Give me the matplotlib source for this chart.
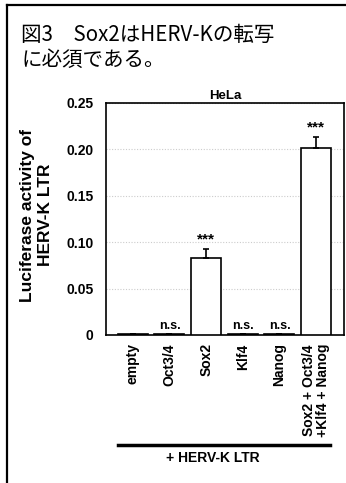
import matplotlib.pyplot as plt
from matplotlib.lines import Line2D

# データ
conditions = ["empty", "Oct3/4", "Sox2", "Klf4", "Nanog", "Sox2 + Oct3/4\n+Klf4 + Nanog"]
activity = [0.0012, 0.0013, 0.083, 0.0012, 0.0013, 0.201]
errors = [0.0003, 0.0003, 0.010, 0.0003, 0.0003, 0.0127]
marks = ["", "n.s.", "***", "n.s.", "n.s.", "***"]
yticks = [0, 0.05, 0.10, 0.15, 0.20, 0.25]
ytick_labels = ["0", "0.05", "0.10", "0.15", "0.20", "0.25"]
ylabel_lines = ["Luciferase activity of", "HERV-K LTR"]

W, H = 346, 483
fig = plt.figure(figsize=(W / 100, H / 100), dpi=100)

# 枠線
fig.add_artist(Line2D([7 / W, 7 / W], [0, 1 - 5 / H], color="black", lw=1.6))
fig.add_artist(Line2D([7 / W, 1], [1 - 5 / H, 1 - 5 / H], color="black", lw=1.6))

fig.text(21 / W, 1 - 24 / H, "図3　Sox2はHERV-Kの転写\nに必須である。",
         family=["Noto Sans CJK JP", "DejaVu Sans"], fontsize=14.8,
         va="top", ha="left", linespacing=1.15)

ax = fig.add_axes([106 / W, 1 - 335 / H, (344 - 106) / W, (335 - 103) / H])
x = range(len(conditions))
ax.bar(x, activity, width=0.82, color="white", edgecolor="black", linewidth=1.2,
       yerr=[[0] * len(errors), errors],
       error_kw=dict(ecolor="black", elinewidth=1.2, capsize=2.5, capthick=1.2),
       zorder=3)
for i, m in enumerate(marks):
    if m:
        ax.text(i, activity[i] + errors[i] + 0.002, m, ha="center", va="bottom",
                fontsize=9 if m == "n.s." else 11, family="Liberation Sans",
                fontweight="bold")

ax.set_xlim(-0.73, 5.76)
ax.set_ylim(0, 0.25)
ax.set_yticks(yticks)
ax.set_yticklabels(ytick_labels, family="Liberation Sans", fontweight="bold", fontsize=10)
ax.tick_params(axis="both", length=0)
ax.tick_params(axis="y", pad=9)
ax.set_xticks(list(x))
ax.set_xticklabels(conditions, rotation=90, family="Liberation Sans", fontweight="bold",
                   fontsize=10, va="top", linespacing=0.95)
ax.tick_params(axis="x", pad=6)
ax.grid(axis="y", color="#cccccc", linestyle=(0, (1, 1.5)), linewidth=0.8, zorder=0)
for s in ax.spines.values():
    s.set_linewidth(1.2)
ax.set_title("HeLa", family="Liberation Sans", fontweight="bold", fontsize=9.5, pad=3)

# y軸ラベル（2行）
for xpos, line in zip([28, 46], ylabel_lines):
    fig.text(xpos / W, 1 - 215 / H, line, rotation=90, family="Liberation Sans",
             fontweight="bold", fontsize=12.5, ha="center", va="center")

# 下の線とラベル
fig.add_artist(Line2D([118 / W, 330 / W], [1 - 445 / H, 1 - 445 / H], color="black", lw=2.5))
fig.text(213 / W, 1 - 458 / H, "+ HERV-K LTR", family="Liberation Sans", fontweight="bold",
         fontsize=10, ha="center", va="center")

fig.savefig("out.png", dpi=100)
